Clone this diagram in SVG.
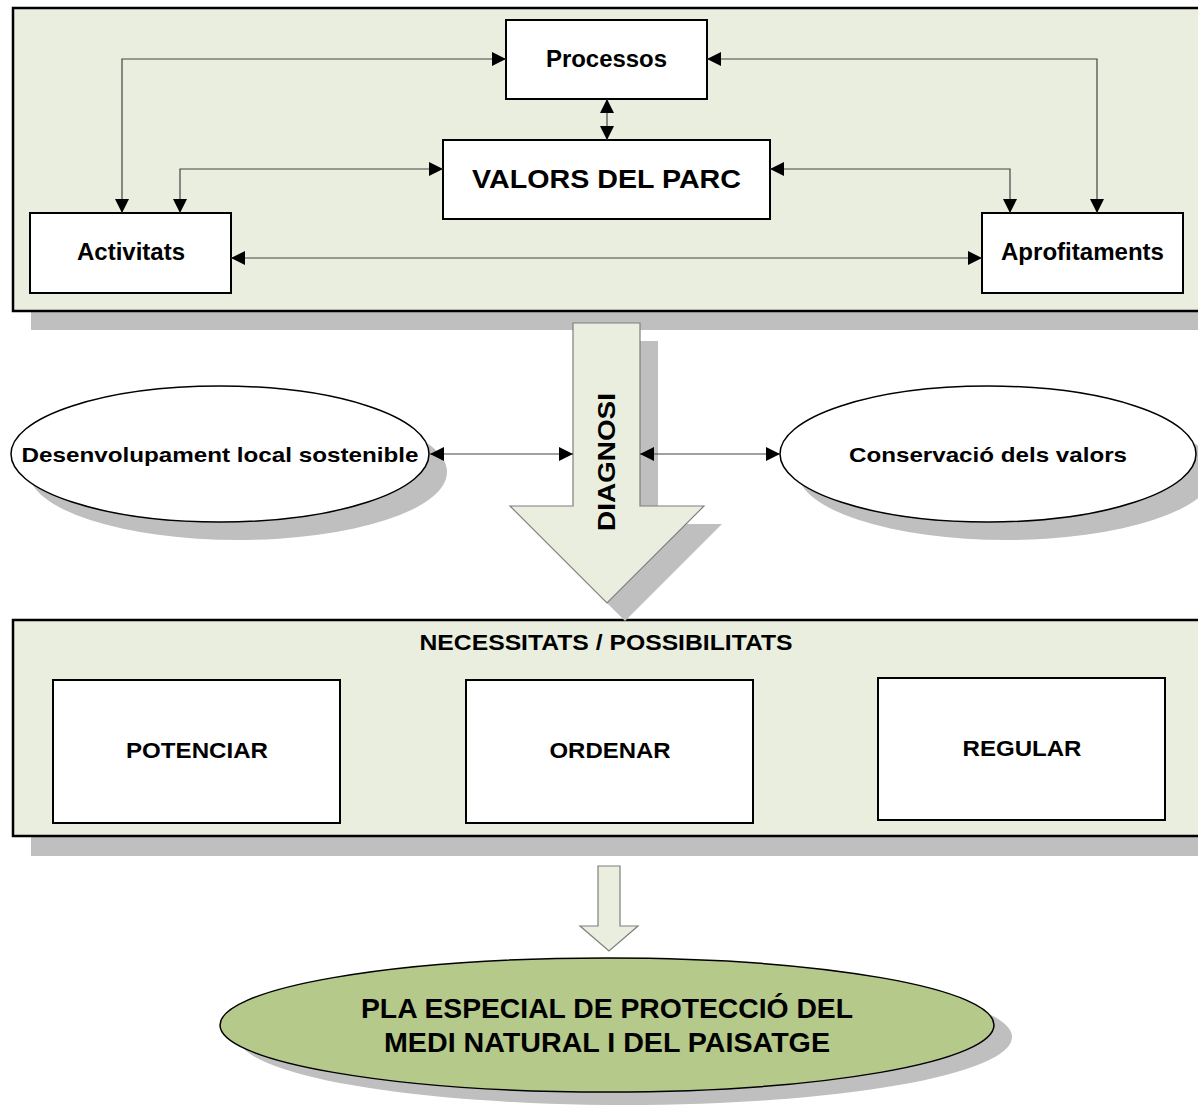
<svg xmlns="http://www.w3.org/2000/svg" width="1198" height="1105" viewBox="0 0 1198 1105">
<style>
.frame{fill:#eaeedf;stroke:#000;stroke-width:2.5}
.shadow{fill:#bfbfbf;stroke:none}
.box{fill:#fff;stroke:#000;stroke-width:2}
.conn{fill:none;stroke:#444;stroke-width:1.2}
.bigarrow{fill:#eaeedf;stroke:#7f7f7f;stroke-width:1.2}
.t{font-family:"Liberation Sans",Arial,sans-serif;font-weight:bold;fill:#000;text-anchor:middle;dominant-baseline:central}
</style>
<defs>
<marker id="ah" viewBox="0 0 10 10" refX="10" refY="5" markerWidth="16" markerHeight="14" markerUnits="userSpaceOnUse" orient="auto-start-reverse">
<path d="M0,0 L10,5 L0,10 Z" fill="#000"/>
</marker>
</defs>
<rect width="1198" height="1105" fill="#fff"/>
<g id="top-frame">
<rect class="shadow" x="31" y="311" width="1180" height="19"/>
<rect class="frame" x="13" y="8" width="1200" height="303"/>
</g>
<g id="mid-frame">
<rect class="shadow" x="31" y="836" width="1180" height="20"/>
<rect class="frame" x="13" y="620" width="1200" height="216"/>
<text class="t" x="606" y="642" font-size="22" textLength="373" lengthAdjust="spacingAndGlyphs">NECESSITATS / POSSIBILITATS</text>
</g>
<g id="processos">
<rect class="box" x="506" y="20" width="201" height="79"/>
<text class="t" x="606.5" y="59" font-size="23" textLength="121" lengthAdjust="spacingAndGlyphs">Processos</text>
</g>
<g id="valors">
<rect class="box" x="443" y="140" width="327" height="79"/>
<text class="t" x="606.5" y="179" font-size="26" textLength="269" lengthAdjust="spacingAndGlyphs">VALORS DEL PARC</text>
</g>
<g id="activitats">
<rect class="box" x="30" y="213" width="201" height="80"/>
<text class="t" x="131" y="252" font-size="23" textLength="108" lengthAdjust="spacingAndGlyphs">Activitats</text>
</g>
<g id="aprofitaments">
<rect class="box" x="982" y="213" width="201" height="80"/>
<text class="t" x="1082.5" y="252" font-size="23" textLength="163" lengthAdjust="spacingAndGlyphs">Aprofitaments</text>
</g>
<g id="diagnosi">
<path class="shadow" d="M591,341 H658 V524 H722 L625,621 L528,524 H591 Z"/>
<path class="bigarrow" d="M573,323 H640 V506 H704 L607,603 L510,506 H573 Z"/>
<text class="t" transform="translate(606,462) rotate(-90)" font-size="24" textLength="138" lengthAdjust="spacingAndGlyphs">DIAGNOSI</text>
</g>
<g id="desenvolupament">
<ellipse class="shadow" cx="238" cy="472" rx="209" ry="68"/>
<ellipse cx="220" cy="454" rx="209" ry="68" fill="#fff" stroke="#000" stroke-width="1.5"/>
<text class="t" x="220" y="454" font-size="21" textLength="397" lengthAdjust="spacingAndGlyphs">Desenvolupament local sostenible</text>
</g>
<g id="conservacio">
<ellipse class="shadow" cx="1006" cy="472" rx="208" ry="68"/>
<ellipse cx="988" cy="454" rx="208" ry="68" fill="#fff" stroke="#000" stroke-width="1.5"/>
<text class="t" x="988" y="454" font-size="21" textLength="278" lengthAdjust="spacingAndGlyphs">Conservació dels valors</text>
</g>
<g id="potenciar">
<rect class="box" x="53" y="680" width="287" height="143"/>
<text class="t" x="197" y="750" font-size="22" textLength="142" lengthAdjust="spacingAndGlyphs">POTENCIAR</text>
</g>
<g id="ordenar">
<rect class="box" x="466" y="680" width="287" height="143"/>
<text class="t" x="610" y="750" font-size="22" textLength="121" lengthAdjust="spacingAndGlyphs">ORDENAR</text>
</g>
<g id="regular">
<rect class="box" x="878" y="678" width="287" height="142"/>
<text class="t" x="1022" y="748" font-size="22" textLength="119" lengthAdjust="spacingAndGlyphs">REGULAR</text>
</g>
<g id="small-arrow">
<path class="bigarrow" d="M598,866 H620 V926 H638 L609,951 L580,926 H598 Z"/>
</g>
<g id="pla">
<ellipse class="shadow" cx="625" cy="1037" rx="387" ry="68"/>
<ellipse cx="607" cy="1025" rx="387" ry="67" fill="#b4c98a" stroke="#000" stroke-width="1.5"/>
<text class="t" x="607" y="1008" font-size="28" textLength="492" lengthAdjust="spacingAndGlyphs">PLA ESPECIAL DE PROTECCIÓ DEL</text>
<text class="t" x="607" y="1042" font-size="28" textLength="446" lengthAdjust="spacingAndGlyphs">MEDI NATURAL I DEL PAISATGE</text>
</g>
<g id="connectors">
<path class="conn" d="M122,213 V59 H506" marker-start="url(#ah)" marker-end="url(#ah)"/>
<path class="conn" d="M180,213 V169 H443" marker-start="url(#ah)" marker-end="url(#ah)"/>
<path class="conn" d="M1097,213 V59 H707" marker-start="url(#ah)" marker-end="url(#ah)"/>
<path class="conn" d="M1010,213 V169 H770" marker-start="url(#ah)" marker-end="url(#ah)"/>
<path class="conn" d="M231,258 H982" marker-start="url(#ah)" marker-end="url(#ah)"/>
<path class="conn" d="M607,99 V140" marker-start="url(#ah)" marker-end="url(#ah)"/>
<path class="conn" d="M430,454 H573" marker-start="url(#ah)" marker-end="url(#ah)"/>
<path class="conn" d="M640,454 H780" marker-start="url(#ah)" marker-end="url(#ah)"/>
</g>
</svg>
